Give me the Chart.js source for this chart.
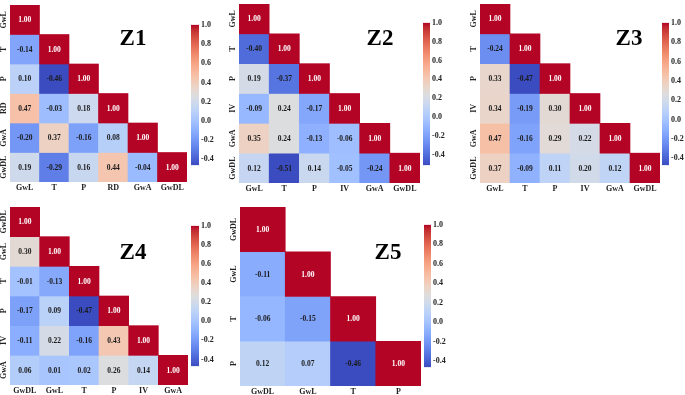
<!DOCTYPE html>
<html>
<head>
<meta charset="utf-8">
<script src="https://cdn.jsdelivr.net/npm/chart.js@4.4.0/dist/chart.umd.min.js"></script>
<style>
  body { margin: 0; background: #fff; width: 685px; height: 395px; overflow: hidden; position: relative; }
  canvas { position: absolute; }
</style>
</head>
<body>
<script>
// correlation matrices (lower triangle, row by row)
const z1Vars = ['GwL', 'T', 'P', 'RD', 'GwA', 'GwDL'];
const z1Corr = [
  [1.00],
  [-0.14, 1.00],
  [0.10, -0.46, 1.00],
  [0.47, -0.03, 0.18, 1.00],
  [-0.20, 0.37, -0.16, 0.08, 1.00],
  [0.19, -0.29, 0.16, 0.44, -0.04, 1.00]
];

const z2Vars = ['GwL', 'T', 'P', 'IV', 'GwA', 'GwDL'];
const z2Corr = [
  [1.00],
  [-0.40, 1.00],
  [0.19, -0.37, 1.00],
  [-0.09, 0.24, -0.17, 1.00],
  [0.35, 0.24, -0.13, -0.06, 1.00],
  [0.12, -0.51, 0.14, -0.05, -0.24, 1.00]
];

const z3Vars = ['GwL', 'T', 'P', 'IV', 'GwA', 'GwDL'];
const z3Corr = [
  [1.00],
  [-0.24, 1.00],
  [0.33, -0.47, 1.00],
  [0.34, -0.19, 0.30, 1.00],
  [0.47, -0.16, 0.29, 0.22, 1.00],
  [0.37, -0.09, 0.11, 0.20, 0.12, 1.00]
];

const z4Vars = ['GwDL', 'GwL', 'T', 'P', 'IV', 'GwA'];
const z4Corr = [
  [1.00],
  [0.30, 1.00],
  [-0.01, -0.13, 1.00],
  [-0.17, 0.09, -0.47, 1.00],
  [-0.11, 0.22, -0.16, 0.43, 1.00],
  [0.06, 0.01, 0.02, 0.26, 0.14, 1.00]
];

const z5Vars = ['GwDL', 'GwL', 'T', 'P'];
const z5Corr = [
  [1.00],
  [-0.11, 1.00],
  [-0.06, -0.15, 1.00],
  [0.12, 0.07, -0.46, 1.00]
];

const cbarTicks = [-0.4, -0.2, 0.0, 0.2, 0.4, 0.6, 0.8, 1.0];

// matplotlib "coolwarm" (Moreland), 33 evenly spaced stops
const coolwarm = [
  [59,76,192],[68,90,204],[77,104,215],[87,117,225],[98,130,234],[108,142,241],
  [119,154,247],[130,165,251],[141,176,254],[152,185,255],[163,194,255],[174,201,252],
  [184,208,249],[194,213,244],[204,217,238],[213,219,230],[221,221,221],[229,216,209],
  [236,211,197],[241,204,185],[245,196,173],[247,187,160],[247,177,148],[247,166,135],
  [244,154,123],[241,141,111],[236,127,99],[229,112,88],[222,96,77],[213,80,66],
  [203,62,56],[192,40,47],[180,4,38]
];

function cmap(t) {
  t = Math.max(0, Math.min(1, t));
  const f = t * (coolwarm.length - 1);
  const i = Math.min(Math.floor(f), coolwarm.length - 2);
  const u = f - i;
  const a = coolwarm[i], b = coolwarm[i + 1];
  const c = a.map((v, k) => Math.round(v + (b[k] - v) * u));
  return `rgb(${c[0]},${c[1]},${c[2]})`;
}

const FONT = '"Liberation Serif", "DejaVu Serif", serif';

const panels = [
  { name: 'Z1', vars: z1Vars, corr: z1Corr, heat: [10, 5, 187, 182], cbar: [191, 24, 199, 166], title: [133, 39] },
  { name: 'Z2', vars: z2Vars, corr: z2Corr, heat: [239, 4, 420, 183], cbar: [423, 22, 430, 166], title: [380, 39] },
  { name: 'Z3', vars: z3Vars, corr: z3Corr, heat: [480, 4, 660, 183], cbar: [662, 22, 669, 166], title: [629, 39] },
  { name: 'Z4', vars: z4Vars, corr: z4Corr, heat: [10, 207, 188, 385], cbar: [191, 225, 199, 367], title: [133, 253] },
  { name: 'Z5', vars: z5Vars, corr: z5Corr, heat: [240, 207, 421, 386], cbar: [424, 224, 431, 368], title: [388, 253] }
];

function addCanvas(left, top, w, h) {
  const c = document.createElement('canvas');
  c.width = w; c.height = h;
  c.style.left = left + 'px'; c.style.top = top + 'px';
  document.body.appendChild(c);
  return c;
}

function drawHeatmap(p) {
  const n = p.vars.length;
  const vmin = Math.min(...p.corr.flat());
  const [l, t, r, b] = p.heat;
  const cl = Math.max(0, l - 14), ct = Math.max(0, t - 4);
  const canvas = addCanvas(cl, ct, r + 2 - cl, b + 13 - ct);

  const datasets = p.corr.map((row, i) => ({
    data: p.vars.map((_, j) => j < row.length ? [i, i + 1] : null),
    values: row,
    backgroundColor: p.vars.map((_, j) => j < row.length ? cmap((row[j] - vmin) / (1 - vmin)) : 'transparent'),
    borderWidth: 0
  }));

  const extras = {
    id: 'extras',
    afterDraw(chart) {
      const ctx = chart.ctx;
      ctx.save();
      // cell annotations
      ctx.textAlign = 'center';
      ctx.textBaseline = 'middle';
      ctx.font = `bold 7.5px ${FONT}`;
      chart.data.datasets.forEach((ds, i) => {
        chart.getDatasetMeta(i).data.forEach((el, j) => {
          if (j >= ds.values.length) return;
          const v = ds.values[j];
          ctx.fillStyle = (v - vmin) / (1 - vmin) > 0.9 ? '#fff' : '#1a1a1a';
          ctx.fillText(v.toFixed(2), el.x, (el.y + el.base) / 2 + 0.5);
        });
      });
      // row labels, rotated
      const ys = chart.scales.y;
      ctx.fillStyle = '#222';
      ctx.font = `bold 8px ${FONT}`;
      p.vars.forEach((lab, i) => {
        ctx.save();
        ctx.translate(chart.chartArea.left - 6, ys.getPixelForValue(i + 0.5));
        ctx.rotate(-Math.PI / 2);
        ctx.fillText(lab, 0, 0);
        ctx.restore();
      });
      // panel title
      ctx.fillStyle = '#000';
      ctx.font = `bold 23px ${FONT}`;
      ctx.fillText(p.name, p.title[0] - cl, p.title[1] - ct);
      ctx.restore();
    }
  };

  new Chart(canvas, {
    type: 'bar',
    data: { labels: p.vars, datasets },
    options: {
      responsive: false,
      animation: false,
      devicePixelRatio: 1,
      layout: { padding: { left: l - cl, top: t - ct, right: 2, bottom: 0 } },
      datasets: { bar: { grouped: false, barPercentage: 1, categoryPercentage: 1 } },
      scales: {
        x: {
          type: 'category',
          grid: { display: false, drawTicks: false },
          border: { display: false },
          ticks: { font: { family: FONT, size: 8, weight: 'bold' }, color: '#222', padding: 1, maxRotation: 0, minRotation: 0, autoSkip: false },
          afterFit: s => { s.height = 13; }
        },
        y: { display: false, min: 0, max: n, reverse: true }
      },
      plugins: { legend: { display: false }, tooltip: { enabled: false } }
    },
    plugins: [extras]
  });

  // colorbar
  const [bl, bt, br, bb] = p.cbar;
  const cb = addCanvas(bl, bt - 6, br - bl + 24, bb - bt + 12);
  new Chart(cb, {
    type: 'bar',
    data: {
      labels: [''],
      datasets: [{
        data: [[vmin, 1]],
        borderWidth: 0,
        backgroundColor: c => {
          const chart = c.chart;
          if (!chart.chartArea) return '#ccc';
          const ys = chart.scales.y;
          const g = chart.ctx.createLinearGradient(0, ys.getPixelForValue(vmin), 0, ys.getPixelForValue(1));
          coolwarm.forEach((col, k) => g.addColorStop(k / (coolwarm.length - 1), `rgb(${col[0]},${col[1]},${col[2]})`));
          return g;
        }
      }]
    },
    options: {
      responsive: false,
      animation: false,
      devicePixelRatio: 1,
      layout: { padding: { top: 6, bottom: 6, left: 0, right: 0 } },
      datasets: { bar: { barPercentage: 1, categoryPercentage: 1 } },
      scales: {
        x: { display: false },
        y: {
          position: 'right',
          min: vmin,
          max: 1,
          afterBuildTicks: s => { s.ticks = cbarTicks.filter(v => v >= vmin - 1e-9 && v <= 1 + 1e-9).map(v => ({ value: v })); },
          afterFit: s => { s.width = 24; },
          grid: { display: false, drawTicks: false },
          border: { display: false },
          ticks: { font: { family: FONT, size: 8, weight: 'bold' }, color: '#222', padding: 2, callback: v => v.toFixed(1) }
        }
      },
      plugins: { legend: { display: false }, tooltip: { enabled: false } }
    }
  });
}

panels.forEach(drawHeatmap);
</script>
</body>
</html>
